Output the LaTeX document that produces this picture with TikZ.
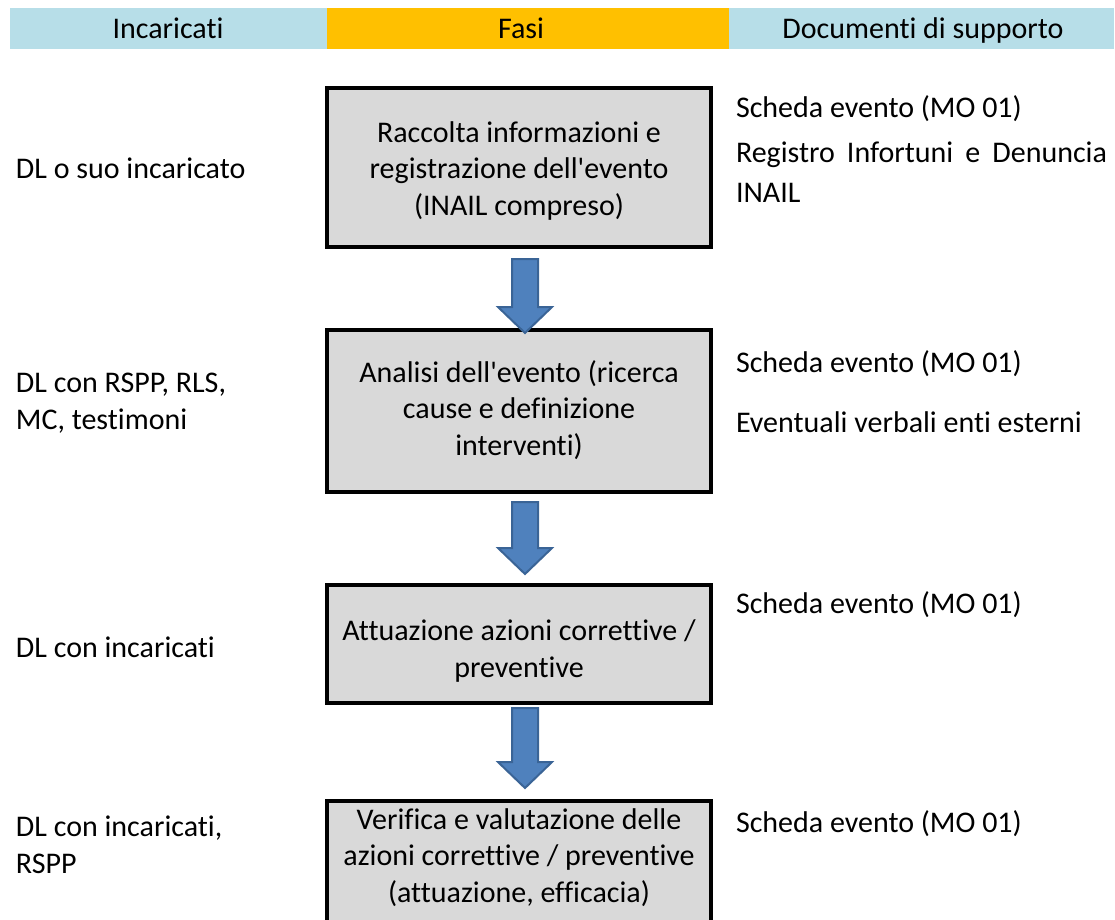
\documentclass[tikz,border=0pt]{standalone}
\usepackage{fontspec}
\setmainfont{Carlito}[Ligatures={NoCommon}]
\usetikzlibrary{calc}
\definecolor{hdrblue}{HTML}{B7DEE8}
\definecolor{hdrorange}{HTML}{FFC000}
\definecolor{boxgray}{HTML}{D9D9D9}
\definecolor{arrowfill}{HTML}{4F81BD}
\definecolor{arrowline}{HTML}{3A6496}

% block arrow pointing down between two named coordinates
\newcommand{\flowarrow}[2]{%
  \filldraw[arrowbody] let \p1=(#1), \p2=(#2) in
    (\x1-13pt,\y1) -- (\x1+13pt,\y1) -- (\x1+13pt,\y2+26pt) --
    (\x1+27pt,\y2+26pt) -- (\x1,\y2) -- (\x1-27pt,\y2+26pt) --
    (\x1-13pt,\y2+26pt) -- cycle;}

\begin{document}
\begin{tikzpicture}[x=1pt,y=-1pt,
  txt/.style={font=\fontsize{30}{36.5}\selectfont, inner sep=0pt, outer sep=0pt},
  hdr/.style={inner sep=0pt, outer sep=0pt, minimum height=41pt, anchor=north west},
  phase/.style={draw=black, line width=4pt, fill=boxgray, minimum width=384pt,
    inner sep=0pt},
  phasetext/.style={txt, align=center, anchor=base},
  arrowbody/.style={fill=arrowfill, draw=arrowline, line width=2pt, line join=miter}]
\clip (0,0) rectangle (1115,919);

% header band
\node[hdr, fill=hdrblue, minimum width=317pt] (hleft) at (10,8) {};
\node[hdr, fill=hdrorange, minimum width=402pt] (hmid) at (327,8) {};
\node[hdr, fill=hdrblue, minimum width=385pt] (hright) at (729,8) {};
\node[txt, anchor=base] (t1) at (168,38) {Incaricati};
\node[txt, anchor=base] (t2) at (521,38) {Fasi};
\node[txt, anchor=base] (t3) at (923,38) {Documenti di supporto};

% phase boxes
\node[phase, minimum height=159pt] (f1) at (519,167.5) {};
\node[phase, minimum height=162pt] (f2) at (519,411) {};
\node[phase, minimum height=118pt] (f3) at (519,644) {};
\node[phase, minimum height=200pt, anchor=north] (f4) at (519,799) {};

% phase texts (anchored on the baseline of their last line)
\node[phasetext] (f1t) at (519,215)
  {Raccolta informazioni e\\registrazione dell\textquotesingle evento\\(INAIL compreso)};
\node[phasetext] (f2t) at (519,455)
  {Analisi dell\textquotesingle evento (ricerca\\cause e definizione\\interventi)};
\node[phasetext] (f3t) at (519,677)
  {Attuazione azioni correttive /\\preventive};
\node[phasetext] (f4t) at (519,902)
  {Verifica e valutazione delle\\azioni correttive / preventive\\(attuazione, efficacia)};

% arrows between phases
\coordinate (a1s) at (525,259); \coordinate (a1e) at (525,333);
\coordinate (a2s) at (525,502); \coordinate (a2e) at (525,574);
\coordinate (a3s) at (525,708); \coordinate (a3e) at (525,788);
\flowarrow{a1s}{a1e}
\flowarrow{a2s}{a2e}
\flowarrow{a3s}{a3e}

% people in charge
\node[txt, anchor=base west] (p1) at (16,178) {DL o suo incaricato};
\node[txt, anchor=base west, align=left] (p2) at (16,429) {DL con RSPP, RLS,\\MC, testimoni};
\node[txt, anchor=base west] (p3) at (16,657) {DL con incaricati};
\node[txt, anchor=base west, align=left] (p4) at (16,873) {DL con incaricati,\\RSPP};

% supporting documents
\node[txt, anchor=base west] (d1) at (736,117) {Scheda evento (MO 01)};
\node[txt, anchor=base west, align=left, font=\fontsize{30}{40}\selectfont] (d1b) at (736,202)
  {\hbox to 371pt{Registro\hfill Infortuni\hfill e\hfill Denuncia}\\INAIL};
\node[txt, anchor=base west] (d2) at (736,372) {Scheda evento (MO 01)};
\node[txt, anchor=base west] (d2b) at (736,432) {Eventuali verbali enti esterni};
\node[txt, anchor=base west] (d3) at (736,613) {Scheda evento (MO 01)};
\node[txt, anchor=base west] (d4) at (736,832) {Scheda evento (MO 01)};
\end{tikzpicture}
\end{document}
